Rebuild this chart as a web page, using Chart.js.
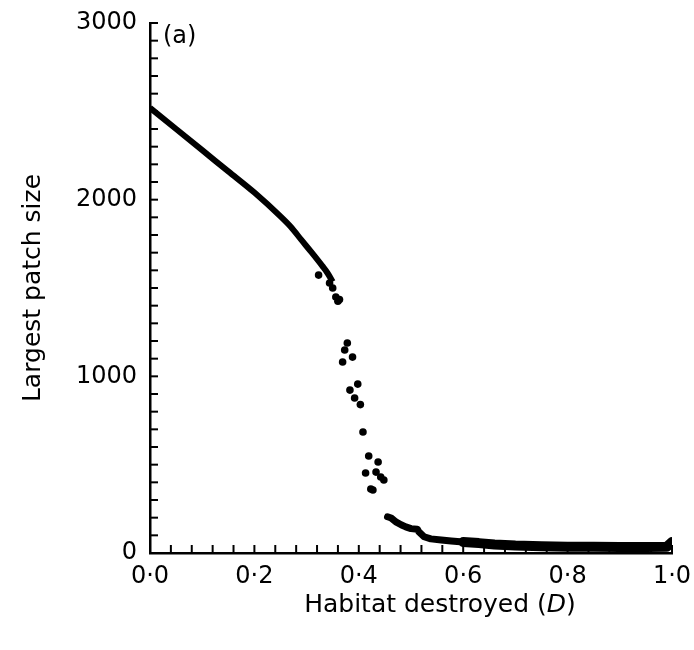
<!DOCTYPE html>
<html>
<head>
<meta charset="utf-8">
<script src="https://cdn.jsdelivr.net/npm/chart.js@4.4.0/dist/chart.umd.min.js"></script>
<style>
  html, body { margin: 0; padding: 0; background: #fff; }
</style>
</head>
<body>
<canvas id="chart" width="694" height="650"></canvas>
<script>
// smooth upper part of the curve
const curveD = [0, 0.05, 0.10, 0.15, 0.20, 0.25, 0.27, 0.29, 0.31, 0.33, 0.34, 0.35];
const curveSize = [2520, 2400, 2280, 2160, 2040, 1905, 1845, 1772, 1700, 1625, 1585, 1535];

// scattered points around the collapse
const dropD = [0.323, 0.344, 0.350, 0.356, 0.360, 0.363,
  0.378, 0.373, 0.388, 0.369,
  0.398, 0.383, 0.392, 0.403,
  0.408, 0.419, 0.437, 0.413, 0.433, 0.442, 0.448, 0.423, 0.427];
const dropSize = [1573, 1528, 1500, 1449, 1425, 1435,
  1189, 1149, 1109, 1081,
  956, 922, 877, 840,
  685, 549, 515, 453, 458, 430, 413, 362, 357];

// low tail near zero
const tailD = [0.455, 0.462, 0.471, 0.481, 0.490, 0.500, 0.512, 0.515, 0.525, 0.538,
  0.558, 0.577, 0.600, 0.630, 0.660, 0.700, 0.750, 0.800, 0.850, 0.900, 0.950, 0.990, 1.000];
const tailSize = [205, 198, 176, 160, 148, 138, 135, 120, 92, 80,
  74, 68, 62, 56, 48, 42, 38, 36, 35, 34, 34, 36, 62];

const yLabelled = [0, 1000, 2000, 3000];
const xLabelled = [0, 0.2, 0.4, 0.6, 0.8, 1.0];

const toPts = (xs, ys) => xs.map((x, i) => ({ x: x, y: ys[i] }));

Chart.defaults.font.family = "'DejaVu Sans', sans-serif";
Chart.defaults.color = '#000';

// ticks drawn pointing into the plot, like the printed figure
const inwardTicks = {
  id: 'inwardTicks',
  beforeDatasetsDraw(chart) {
    const { ctx, chartArea, scales } = chart;
    ctx.save();
    ctx.strokeStyle = '#000';
    ctx.lineWidth = 2;
    scales.x.ticks.forEach(t => {
      const px = scales.x.getPixelForValue(t.value);
      ctx.beginPath();
      ctx.moveTo(px, chartArea.bottom);
      ctx.lineTo(px, chartArea.bottom - 8);
      ctx.stroke();
    });
    scales.y.ticks.forEach(t => {
      const py = scales.y.getPixelForValue(t.value);
      ctx.beginPath();
      ctx.moveTo(chartArea.left, py);
      ctx.lineTo(chartArea.left + 8, py);
      ctx.stroke();
    });
    ctx.restore();
  }
};

// panel letter and x axis title (italic D)
const labels = {
  id: 'labels',
  afterDraw(chart) {
    const ctx = chart.ctx;
    ctx.save();
    ctx.fillStyle = '#000';
    ctx.textBaseline = 'middle';
    ctx.textAlign = 'left';
    ctx.font = "24px 'DejaVu Sans'";
    ctx.fillText('(a)', 163, 37);

    const parts = [['Habitat destroyed (', "25px 'DejaVu Sans'"], ['D', "italic 25px 'DejaVu Sans'"], [')', "25px 'DejaVu Sans'"]];
    let total = 0;
    parts.forEach(p => { ctx.font = p[1]; total += ctx.measureText(p[0]).width; });
    let x = 440 - total / 2;
    parts.forEach(p => {
      ctx.font = p[1];
      ctx.fillText(p[0], x, 605);
      x += ctx.measureText(p[0]).width;
    });
    ctx.restore();
  }
};

new Chart(document.getElementById('chart'), {
  type: 'scatter',
  data: {
    datasets: [
      {
        data: toPts(curveD, curveSize),
        showLine: true,
        borderColor: '#000',
        borderWidth: 6,
        pointRadius: 0,
        cubicInterpolationMode: 'monotone',
        borderJoinStyle: 'round'
      },
      {
        data: toPts(dropD, dropSize),
        showLine: false,
        backgroundColor: '#000',
        borderWidth: 0,
        pointRadius: 3.8
      },
      {
        data: toPts(tailD, tailSize),
        showLine: true,
        borderColor: '#000',
        borderWidth: 7,
        borderJoinStyle: 'round',
        borderCapStyle: 'round',
        pointRadius: 0,
        segment: {
          borderWidth: c => (c.p0.parsed.x >= 0.6 ? 10 : 7)
        }
      }
    ]
  },
  options: {
    responsive: false,
    animation: false,
    layout: { padding: { left: 0, right: 22, top: 23, bottom: 0 } },
    plugins: {
      legend: { display: false },
      tooltip: { enabled: false }
    },
    scales: {
      x: {
        type: 'linear',
        min: 0,
        max: 1,
        grid: { display: false, drawTicks: false },
        border: { display: true, color: '#000', width: 2.5 },
        ticks: {
          stepSize: 0.04,
          autoSkip: false,
          maxRotation: 0,
          padding: 9,
          font: { size: 24 },
          callback: v => {
            const hit = xLabelled.find(l => Math.abs(l - v) < 1e-6);
            return hit === undefined ? '' : hit.toFixed(1).replace('.', '\u00B7');
          }
        },
        afterFit: s => { s.height = 97; s.paddingLeft = 0; s.paddingRight = 0; }
      },
      y: {
        min: 0,
        max: 3000,
        grid: { display: false, drawTicks: false },
        border: { display: true, color: '#000', width: 2.5 },
        ticks: {
          stepSize: 100,
          autoSkip: false,
          padding: 13,
          font: { size: 24 },
          callback: v => (yLabelled.includes(v) ? String(v) : '')
        },
        title: {
          display: true,
          text: 'Largest patch size',
          font: { size: 25 },
          padding: { top: 18, bottom: 0 }
        },
        afterFit: s => { s.width = 150; s.paddingTop = 0; s.paddingBottom = 0; }
      }
    }
  },
  plugins: [inwardTicks, labels]
});
</script>
</body>
</html>
